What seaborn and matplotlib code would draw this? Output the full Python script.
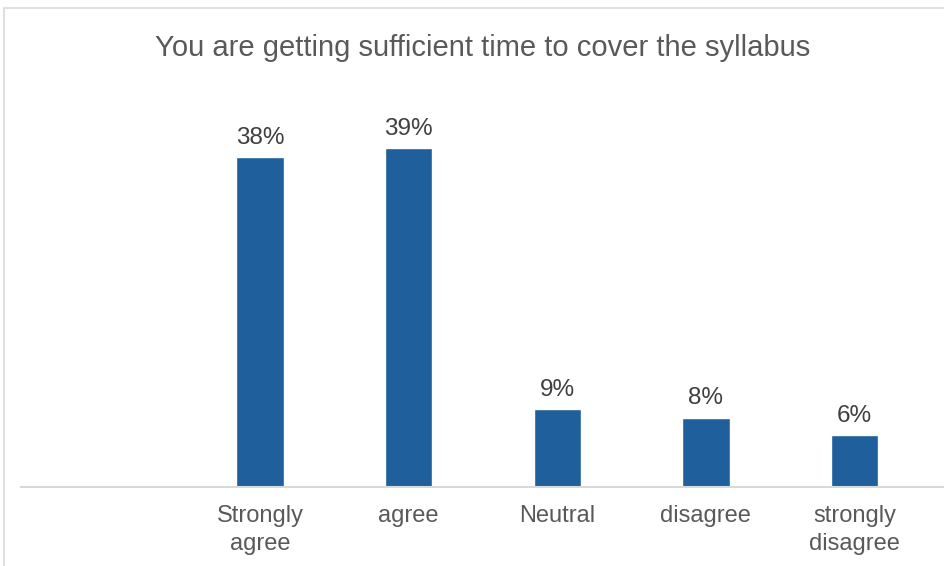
import matplotlib
matplotlib.use("Agg")
import matplotlib.pyplot as plt
import seaborn as sns
import pandas as pd
from matplotlib.patches import Rectangle

categories = ["Strongly\nagree", "agree", "Neutral", "disagree", "strongly\ndisagree"]
percent = [38, 39, 9, 8, 6]

df = pd.DataFrame({"response": categories, "percent": percent})

sns.set_style("white")
plt.rcParams["font.family"] = ["Liberation Sans", "DejaVu Sans"]

fig = plt.figure(figsize=(9.45, 5.66), dpi=100)
ax = fig.add_axes([21 / 945, 79 / 566, 1 - 21 / 945, 390.6 / 566])

sns.barplot(data=df, x="response", y="percent", order=categories,
            color="#1f5f9c", saturation=1, width=0.32, ax=ax)

ax.set_xlim(-1.61, 4.61)
ax.set_ylim(0, 45)
for c in ax.containers:
    ax.bar_label(c, labels=[f"{v}%" for v in percent], padding=6,
                 fontsize=17.5, color="#404040")

ax.set_xlabel("")
ax.set_ylabel("")
ax.set_yticks([])
ax.tick_params(axis="x", length=0, pad=13, labelsize=17, labelcolor="#595959")
for lbl in ax.get_xticklabels():
    lbl.set_linespacing(1.35)
for s in ["top", "right", "left"]:
    ax.spines[s].set_visible(False)
ax.spines["bottom"].set_color("#d9d9d9")
ax.spines["bottom"].set_linewidth(1.5)

fig.text(483 / 945, 1 - 48 / 566, "You are getting sufficient time to cover the syllabus",
         ha="center", va="center", fontsize=21, color="#595959")

# outer chart frame (top and left edges visible)
fig.patches.append(Rectangle((4 / 945, -0.05), 1.2, 1 - 8 / 566 + 0.05,
                             transform=fig.transFigure, fill=False,
                             edgecolor="#d9d9d9", linewidth=1.2))

fig.savefig("out.png", dpi=100)
